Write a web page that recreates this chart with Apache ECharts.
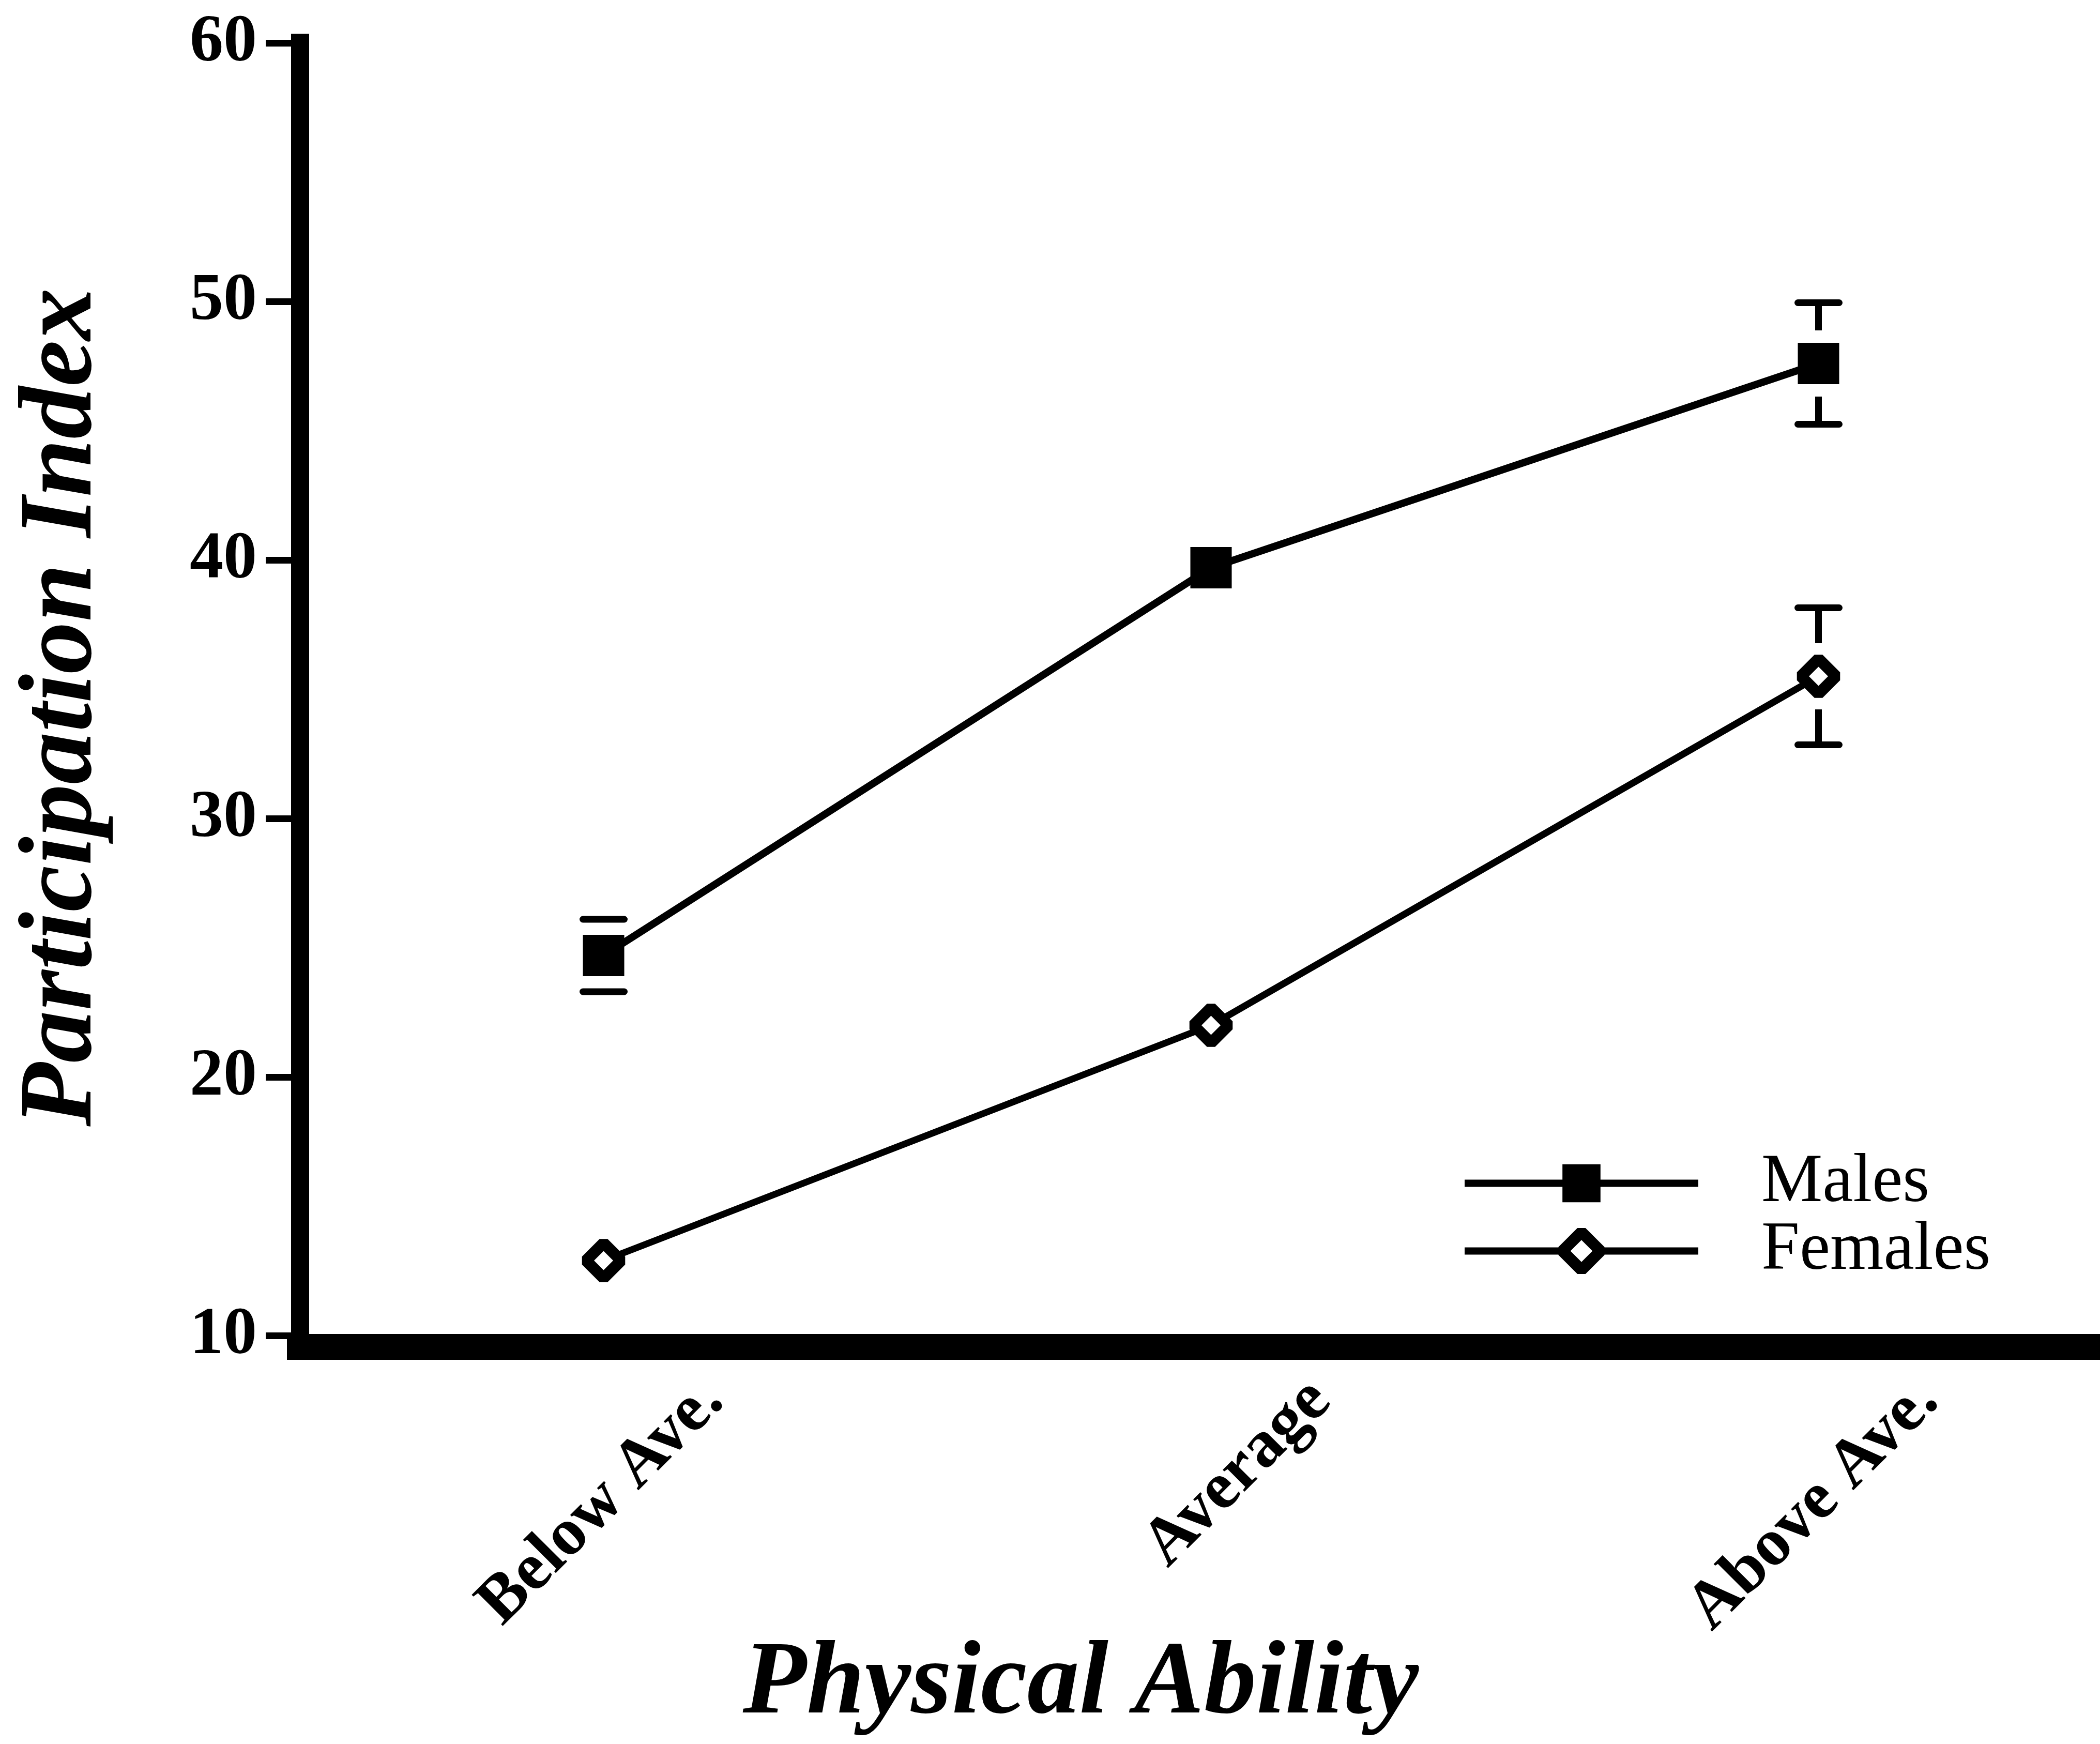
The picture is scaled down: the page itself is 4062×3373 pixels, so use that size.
<!DOCTYPE html>
<html><head><meta charset="utf-8">
<script src="https://cdn.jsdelivr.net/npm/echarts@6/dist/echarts.min.js"></script>
<style>html,body{margin:0;padding:0;background:#fff}#c{width:4062px;height:3373px}</style>
</head><body><div id="c"></div>
<script>
const categories = ['Below Ave.', 'Average', 'Above Ave.'];
const malesMean = [24.7, 39.7, 47.6];
const malesErr = [1.4, null, 2.35];
const femalesMean = [12.9, 22.0, 35.5];
const femalesErr = [null, null, 2.65];
const yTicks = [10, 20, 30, 40, 50, 60];

const SERIF = '"Liberation Serif", "Times New Roman", serif';

function errData(means, errs) {
  return means.map((m, i) => [i, m, errs[i] == null ? 0 : errs[i]]);
}

function renderErr(params, api) {
  const i = api.value(0), v = api.value(1), e = api.value(2);
  if (!(e > 0)) return null;
  const c = api.coord([i, v]);
  const t = api.coord([i, v + e]);
  const b = api.coord([i, v - e]);
  const half = 40, gap = 64;
  const cap = {stroke: '#000', lineWidth: 13, lineCap: 'round'};
  const stem = {stroke: '#000', lineWidth: 13, lineCap: 'butt'};
  const ch = [
    {type: 'line', shape: {x1: c[0] - half, y1: t[1], x2: c[0] + half, y2: t[1]}, style: cap},
    {type: 'line', shape: {x1: c[0] - half, y1: b[1], x2: c[0] + half, y2: b[1]}, style: cap}
  ];
  if (c[1] - gap > t[1]) ch.push({type: 'line', shape: {x1: c[0], y1: t[1], x2: c[0], y2: c[1] - gap}, style: stem});
  if (b[1] > c[1] + gap) ch.push({type: 'line', shape: {x1: c[0], y1: c[1] + gap, x2: c[0], y2: b[1]}, style: stem});
  return {type: 'group', children: ch};
}

const chart = echarts.init(document.getElementById('c'), null, {renderer: 'canvas'});
chart.setOption({
  animation: false,
  backgroundColor: '#fff',
  grid: {left: 580, top: 83, width: 3525, height: 2500, containLabel: false, outerBoundsMode: 'none'},
  legend: {
    orient: 'vertical', left: 2826, top: 2222, padding: 0,
    itemWidth: 452, itemHeight: 92, itemGap: -2, selectedMode: false,
    textStyle: {fontFamily: SERIF, fontSize: 133, color: '#000', lineHeight: 99, padding: [0, 0, 0, 117]},
    lineStyle: {width: 14, color: '#000'},
    data: [
      {name: 'Males', itemStyle: {color: '#000', borderWidth: 0}},
      {name: 'Females', itemStyle: {color: '#fff', borderColor: '#000', borderWidth: 22, borderJoin: 'bevel'}}
    ]
  },
  xAxis: {
    type: 'category', data: categories, boundaryGap: true, offset: 22,
    axisLine: {lineStyle: {color: '#000', width: 50, cap: 'square'}},
    axisTick: {alignWithLabel: true, length: 85, lineStyle: {color: '#000', width: 13}},
    axisLabel: {
      interval: 0, rotate: 45, align: 'right', verticalAlign: 'top', lineHeight: 600,
      margin: -127, hideOverlap: false,
      fontFamily: SERIF, fontSize: 130, fontWeight: 'bold', color: '#000'
    },
    splitLine: {show: false},
    name: 'Physical Ability', nameLocation: 'middle', nameGap: 554, nameMoveOverlap: false,
    nameTextStyle: {fontFamily: SERIF, fontSize: 202, fontWeight: 'bold', fontStyle: 'italic', color: '#000', padding: [0, 504, 0, 0]}
  },
  yAxis: {
    type: 'value', min: yTicks[0], max: yTicks[yTicks.length - 1], interval: 10,
    axisLine: {show: true, lineStyle: {color: '#000', width: 35, cap: 'square'}},
    axisTick: {show: true, length: 66, lineStyle: {color: '#000', width: 13}},
    axisLabel: {margin: 83, fontFamily: SERIF, fontSize: 130, fontWeight: 'bold', color: '#000'},
    splitLine: {show: false},
    name: 'Participation Index', nameLocation: 'middle', nameRotate: 90, nameGap: 356, nameMoveOverlap: false,
    nameTextStyle: {fontFamily: SERIF, fontSize: 202, fontWeight: 'bold', fontStyle: 'italic', color: '#000', padding: [0, 70, 0, 0]}
  },
  series: [
    {
      name: 'Males', type: 'line', data: malesMean, symbol: 'rect', symbolSize: 80,
      itemStyle: {color: '#000'}, lineStyle: {color: '#000', width: 14}, z: 3, silent: true
    },
    {
      name: 'Females', type: 'line', data: femalesMean, symbol: 'diamond', symbolSize: 68,
      itemStyle: {color: '#fff', borderColor: '#000', borderWidth: 22, borderJoin: 'bevel'},
      lineStyle: {color: '#000', width: 13}, z: 3, silent: true
    },
    {name: 'MalesErr', type: 'custom', data: errData(malesMean, malesErr), renderItem: renderErr, z: 2, silent: true},
    {name: 'FemalesErr', type: 'custom', data: errData(femalesMean, femalesErr), renderItem: renderErr, z: 2, silent: true}
  ]
});
</script></body></html>
